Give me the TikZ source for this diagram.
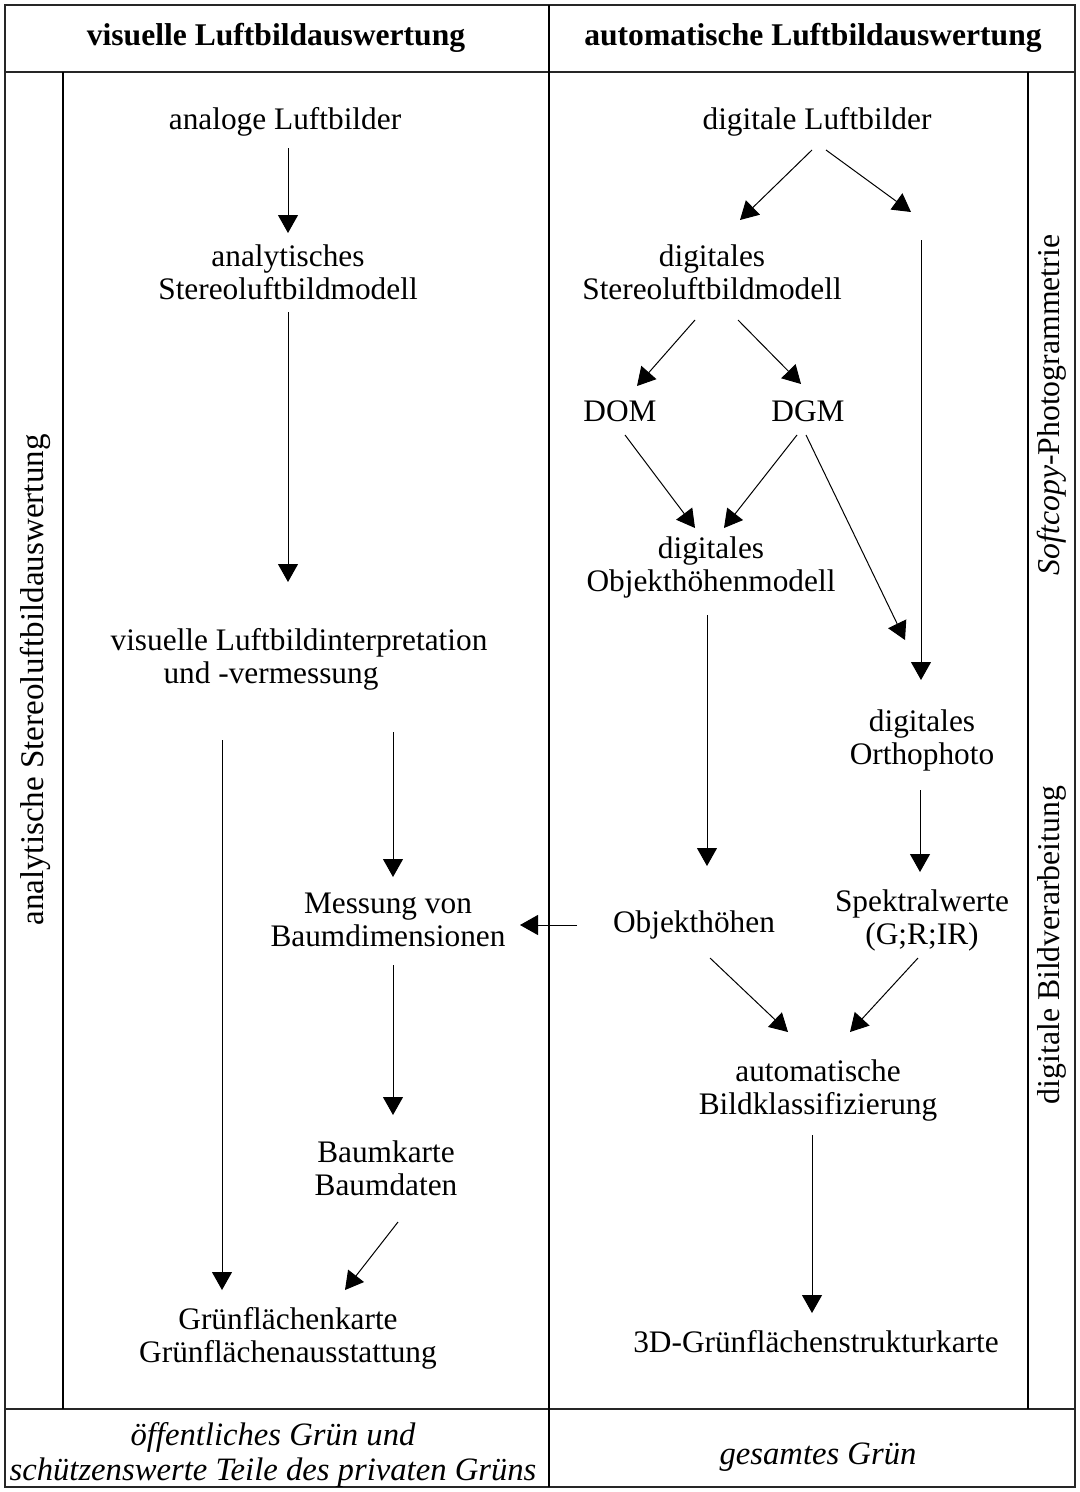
\documentclass[tikz,border=0pt]{standalone}
\usepackage{fontspec}
\setmainfont{Liberation Serif}
\usetikzlibrary{arrows.meta,calc}
\begin{document}
\begin{tikzpicture}[x=0.75pt,y=-0.75pt,
  txt/.style={inner sep=0pt,align=center,font=\fontsize{23.5pt}{24.75pt}\selectfont},
  head/.style={txt,font=\fontsize{23.7pt}{24.75pt}\selectfont\bfseries},
  foot/.style={txt,font=\fontsize{24.5pt}{26.5pt}\selectfont\itshape},
  side/.style={txt,rotate=90,font=\fontsize{24.8pt}{26pt}\selectfont},
  sider/.style={txt,rotate=90,font=\fontsize{23.8pt}{26pt}\selectfont},
  arr/.style={-{Triangle[length=13.5pt,width=15pt]},line width=0.75pt},
  frame/.style={line width=1.3pt,draw=black!85},
  inner/.style={line width=0.8pt}]
\useasboundingbox (0,0) rectangle (1079,1492);
% frame
\draw[frame] (5,5) rectangle (1075,1487);
\draw[frame] (5,72) -- (1075,72);
\draw[frame] (5,1409) -- (1075,1409);
\draw[inner] (549,5) -- (549,1487);
\draw[inner] (63,72) -- (63,1409);
\draw[inner] (1028,72) -- (1028,1409);
% headers
\node[head] (h1) at (276,38) {visuelle Luftbildauswertung};
\node[head] (h2) at (813,38) {automatische Luftbildauswertung};
% side labels
\node[side] (s1) at (35,680) {analytische Stereoluftbildauswertung};
\node[sider] (s2) at (1052,405) {\textit{Softcopy}-Photogrammetrie};
\node[sider] (s3) at (1052,945) {digitale Bildverarbeitung};
% footer
\node[foot] (f1) at (273,1455) {öffentliches Grün und\\schützenswerte Teile des privaten Grüns};
\node[foot] (f2) at (818,1457) {gesamtes Grün};
% left column
\node[txt] (al) at (285,122) {analoge Luftbilder};
\node[txt] (as) at (288,272) {analytisches\\Stereoluftbildmodell};
\node[txt] (vi) at (299,659) {visuelle Luftbildinterpretation\\und -vermessung\rule{42pt}{0pt}};
\node[txt] (me) at (388,920) {Messung von\\Baumdimensionen};
\node[txt] (bk) at (386,1168) {Baumkarte\\Baumdaten};
\node[txt] (gk) at (288,1338) {Grünflächenkarte\\Grünflächenausstattung};
% right column
\node[txt] (dl) at (817,122) {digitale Luftbilder};
\node[txt] (ds) at (712,272) {digitales\\Stereoluftbildmodell};
\node[txt] (dom) at (620,411) {DOM};
\node[txt] (dgm) at (808,411) {DGM};
\node[txt] (doh) at (711,567) {digitales\\Objekthöhenmodell};
\node[txt] (dor) at (922,740) {digitales\\Orthophoto};
\node[txt] (oh) at (694,925) {Objekthöhen};
\node[txt] (sp) at (922,920) {Spektralwerte\\(G;R;IR)};
\node[txt] (ak) at (818,1090) {automatische\\Bildklassifizierung};
\node[txt] (gs) at (816,1342) {3D-Grünflächenstrukturkarte};
\coordinate (mid) at (921,228);
% arrows left
\draw[arr] ($(al.center)+(3,26)$) -- ($(as.center)+(0,-39)$);
\draw[arr] ($(as.center)+(0,40)$) -- ($(vi.center)+(-11,-77)$);
\draw[arr] ($(vi.center)+(-77,81)$) -- ($(gk.center)+(-66,-48)$);
\draw[arr] ($(vi.center)+(94,73)$) -- ($(me.center)+(5,-43)$);
\draw[arr] ($(oh.center)+(-117,0)$) -- ($(me.center)+(132,5)$);
\draw[arr] ($(me.center)+(5,45)$) -- ($(bk.center)+(7,-53)$);
\draw[arr] ($(bk.center)+(12,54)$) -- ($(gk.center)+(57,-48)$);
% arrows right
\draw[arr] ($(dl.center)+(-5,28)$) -- ($(ds.center)+(28,-52)$);
\draw[arr] ($(dl.center)+(9,28)$) -- ($(mid)+(-10,-16)$);
\draw[arr] ($(mid)+(0,12)$) -- ($(dor.center)+(-1,-60)$);
\draw[arr] ($(ds.center)+(-17,48)$) -- ($(dom.center)+(17,-25)$);
\draw[arr] ($(ds.center)+(26,48)$) -- ($(dgm.center)+(-7,-27)$);
\draw[arr] ($(dom.center)+(5,24)$) -- ($(doh.center)+(-16,-39)$);
\draw[arr] ($(dgm.center)+(-11,24)$) -- ($(doh.center)+(13,-39)$);
\draw[arr] ($(dgm.center)+(-2,24)$) -- ($(dor.center)+(-17,-100)$);
\draw[arr] ($(doh.center)+(-4,48)$) -- ($(oh.center)+(13,-59)$);
\draw[arr] ($(dor.center)+(-2,50)$) -- ($(sp.center)+(-2,-48)$);
\draw[arr] ($(oh.center)+(16,33)$) -- ($(ak.center)+(-30,-58)$);
\draw[arr] ($(sp.center)+(-4,38)$) -- ($(ak.center)+(32,-58)$);
\draw[arr] ($(ak.center)+(-6,45)$) -- ($(gs.center)+(-4,-29)$);
\end{tikzpicture}
\end{document}
